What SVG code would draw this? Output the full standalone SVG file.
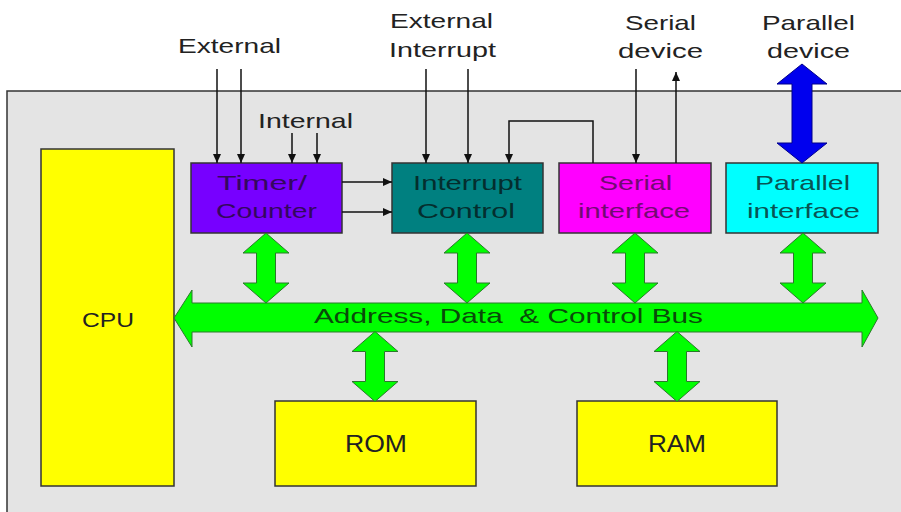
<svg xmlns="http://www.w3.org/2000/svg" width="901" height="512" viewBox="0 0 901 512">
  <style>
    text { font-family: "Liberation Sans", Arial, sans-serif; font-size: 21px; text-anchor: middle; fill: #222; }
    .box { stroke: #333; stroke-width: 1.5; }
    .wire { fill: none; stroke: #111; stroke-width: 1.5; }
    .bus { fill: #00ff00; stroke: #2a7a2a; stroke-width: 1; }
  </style>
  <defs>
    <marker id="tip" markerUnits="userSpaceOnUse" markerWidth="9" markerHeight="8" refX="9" refY="4" orient="auto">
      <path d="M0,0 L9,4 L0,8 Z" fill="#111"/>
    </marker>
    <!-- vertical two-way bus link, 70 px tall, centred on x=0 -->
    <path id="vlink" d="M0,0 L23,20 L9.5,20 L9.5,50 L23,50 L0,70 L-23,50 L-9.5,50 L-9.5,20 L-23,20 Z"/>
  </defs>

  <rect width="901" height="512" fill="#ffffff"/>
  <!-- chip outline -->
  <rect x="7" y="91" width="900" height="430" fill="#e4e4e4" stroke="#333" stroke-width="1.5"/>

  <!-- outside labels -->
  <g id="labels">
    <text x="229.5" y="53" textLength="103" lengthAdjust="spacingAndGlyphs">External</text>
    <text x="441.5" y="28" textLength="103" lengthAdjust="spacingAndGlyphs">External</text>
    <text x="442.5" y="57" textLength="107" lengthAdjust="spacingAndGlyphs">Interrupt</text>
    <text x="305.5" y="128" textLength="95" lengthAdjust="spacingAndGlyphs">Internal</text>
    <text x="660.5" y="30" textLength="71" lengthAdjust="spacingAndGlyphs">Serial</text>
    <text x="660.5" y="58" textLength="85" lengthAdjust="spacingAndGlyphs">device</text>
    <text x="808.5" y="30" textLength="93" lengthAdjust="spacingAndGlyphs">Parallel</text>
    <text x="808.5" y="58" textLength="83" lengthAdjust="spacingAndGlyphs">device</text>
  </g>

  <g id="cpu">
    <rect class="box" x="41" y="149" width="133" height="337" fill="#ffff00"/>
    <text x="108" y="327" textLength="52" lengthAdjust="spacingAndGlyphs">CPU</text>
  </g>

  <g id="timer">
    <rect class="box" x="191" y="163" width="151" height="70" fill="#7700ff"/>
    <text x="262" y="190" textLength="90" lengthAdjust="spacingAndGlyphs" style="fill:#34085e">Timer/</text>
    <text x="266.5" y="218" textLength="101" lengthAdjust="spacingAndGlyphs" style="fill:#34085e">Counter</text>
  </g>

  <g id="interrupt">
    <rect class="box" x="392" y="163" width="151" height="70" fill="#008080"/>
    <text x="467.5" y="190" textLength="109" lengthAdjust="spacingAndGlyphs" style="fill:#042e2e">Interrupt</text>
    <text x="466" y="218" textLength="98" lengthAdjust="spacingAndGlyphs" style="fill:#042e2e">Control</text>
  </g>

  <g id="serial">
    <rect class="box" x="559" y="163" width="152" height="70" fill="#ff00ff"/>
    <text x="635.5" y="190" textLength="73" lengthAdjust="spacingAndGlyphs" style="fill:#720a72">Serial</text>
    <text x="634" y="218" textLength="112" lengthAdjust="spacingAndGlyphs" style="fill:#720a72">interface</text>
  </g>

  <g id="parallel">
    <rect class="box" x="726" y="163" width="152" height="70" fill="#00ffff"/>
    <text x="802.5" y="190" textLength="95" lengthAdjust="spacingAndGlyphs" style="fill:#085454">Parallel</text>
    <text x="803.5" y="218" textLength="113" lengthAdjust="spacingAndGlyphs" style="fill:#085454">interface</text>
  </g>

  <g id="rom">
    <rect class="box" x="275" y="401" width="201" height="85" fill="#ffff00"/>
    <text x="376" y="452" textLength="62" lengthAdjust="spacingAndGlyphs" style="font-size:23px">ROM</text>
  </g>

  <g id="ram">
    <rect class="box" x="577" y="401" width="200" height="85" fill="#ffff00"/>
    <text x="677" y="452" textLength="58" lengthAdjust="spacingAndGlyphs" style="font-size:23px">RAM</text>
  </g>

  <g id="connectors">
    <!-- system bus -->
    <path class="bus" d="M174,318 L192,290 L192,303 L862,303 L862,290 L878,318 L862,347 L862,332 L192,332 L192,347 Z"/>
    <text x="508.5" y="323" textLength="389" lengthAdjust="spacingAndGlyphs" style="fill:#0a4a0a;white-space:pre">Address, Data  &amp; Control Bus</text>

    <!-- links between peripherals and the bus -->
    <use href="#vlink" class="bus" x="266" y="233"/>
    <use href="#vlink" class="bus" x="467" y="233"/>
    <use href="#vlink" class="bus" x="635" y="233"/>
    <use href="#vlink" class="bus" x="803" y="233"/>
    <use href="#vlink" class="bus" x="375" y="331.5"/>
    <use href="#vlink" class="bus" x="677" y="331.5"/>

    <!-- parallel port -->
    <path d="M802,64 L827,84 L812,84 L812,143 L827,143 L802,163 L777,143 L792,143 L792,84 L777,84 Z" fill="#0000ee" stroke="#00008a" stroke-width="1"/>

    <!-- signal wires -->
    <line class="wire" x1="217" y1="69" x2="217" y2="163" marker-end="url(#tip)"/>
    <line class="wire" x1="241" y1="69" x2="241" y2="163" marker-end="url(#tip)"/>
    <line class="wire" x1="292" y1="133" x2="292" y2="163" marker-end="url(#tip)"/>
    <line class="wire" x1="317" y1="133" x2="317" y2="163" marker-end="url(#tip)"/>
    <line class="wire" x1="426" y1="69" x2="426" y2="163" marker-end="url(#tip)"/>
    <line class="wire" x1="468" y1="69" x2="468" y2="163" marker-end="url(#tip)"/>
    <polyline class="wire" points="593,163 593,121 509,121 509,163" marker-end="url(#tip)"/>
    <line class="wire" x1="636" y1="69" x2="636" y2="163" marker-end="url(#tip)"/>
    <line class="wire" x1="676" y1="163" x2="676" y2="72" marker-end="url(#tip)"/>
    <line class="wire" x1="342" y1="182" x2="392" y2="182" marker-end="url(#tip)"/>
    <line class="wire" x1="342" y1="212" x2="392" y2="212" marker-end="url(#tip)"/>
  </g>
</svg>
